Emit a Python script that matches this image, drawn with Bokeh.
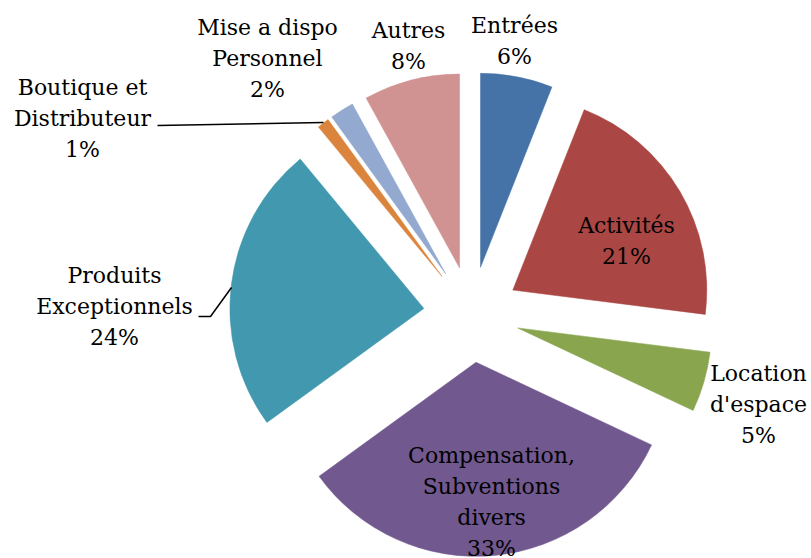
import math
from bokeh.plotting import figure
from bokeh.models import Range1d, ColumnDataSource
from bokeh.core.properties import value
from bokeh.embed import file_html
from bokeh.resources import INLINE

# Revenue breakdown (percent of total), clockwise from 12 o'clock
categories = ["Entrées", "Activités", "Location d'espace",
              "Compensation, Subventions divers", "Produits Exceptionnels",
              "Boutique et Distributeur", "Mise a dispo Personnel", "Autres"]
label_lines = [["Entrées"], ["Activités"], ["Location", "d'espace"],
               ["Compensation,", "Subventions", "divers"],
               ["Produits", "Exceptionnels"], ["Boutique et", "Distributeur"],
               ["Mise a dispo", "Personnel"], ["Autres"]]
shares = [6, 21, 5, 33, 24, 1, 2, 8]
colors = ["#4572A7", "#AA4643", "#89A54E", "#71588F",
          "#4198AF", "#DB843D", "#93A9CF", "#D19392"]

W, H = 811, 558
CX, CY = 471, 314      # pie centre (screen px, y down)
R = 194                # radius
EXPLODE = 48           # radial offset of every slice
FONT = "DejaVu Serif"
FSIZE = "22px"
LINE_PITCH = 31

# label block centres (screen px) and leader lines
label_pos = [(514, 40), (626, 240), (758, 404), (491, 501),
             (114, 306), (82, 118), (267, 58), (408, 45)]
leaders = {5: [(157, 125), (323, 122)],
           4: [(198, 316), (210, 316), (231, 287)]}

total = float(sum(shares))
xs, ys, starts, ends = [], [], [], []
acc = 0.0
for s in shares:
    t0 = acc / total * 360.0
    t1 = (acc + s) / total * 360.0
    tm = math.radians((t0 + t1) / 2)
    xs.append(CX + EXPLODE * math.sin(tm))
    ys.append((H - CY) + EXPLODE * math.cos(tm))
    starts.append(math.radians(90 - t0))
    ends.append(math.radians(90 - t1))
    acc += s

src = ColumnDataSource(dict(x=xs, y=ys, start=starts, end=ends, color=colors))

p = figure(width=W, height=H, x_range=Range1d(0, W), y_range=Range1d(0, H),
           min_border=0, toolbar_location=None, output_backend="svg",
           x_axis_location=None, y_axis_location=None)
p.grid.visible = False
p.outline_line_color = None
p.background_fill_color = "white"
p.border_fill_color = "white"

p.wedge(x="x", y="y", radius=R, start_angle="start", end_angle="end",
        direction="clock", fill_color="color", line_color="color",
        line_width=0.5, source=src)

for i, pts in leaders.items():
    p.line([q[0] for q in pts], [H - q[1] for q in pts],
           line_color="black", line_width=1.5)

tx, ty, tt = [], [], []
for lines, s, (lx, ly) in zip(label_lines, shares, label_pos):
    block = lines + [f"{s}%"]
    n = len(block)
    for k, t in enumerate(block):
        py = ly + (k - (n - 1) / 2) * LINE_PITCH
        tx.append(lx)
        ty.append(H - py)
        tt.append(t)

p.text(x=tx, y=ty, text=tt, text_font=value(FONT), text_font_size=FSIZE,
       text_align="center", text_baseline="middle", text_color="black")

open("out.html", "w").write(file_html(p, INLINE))
